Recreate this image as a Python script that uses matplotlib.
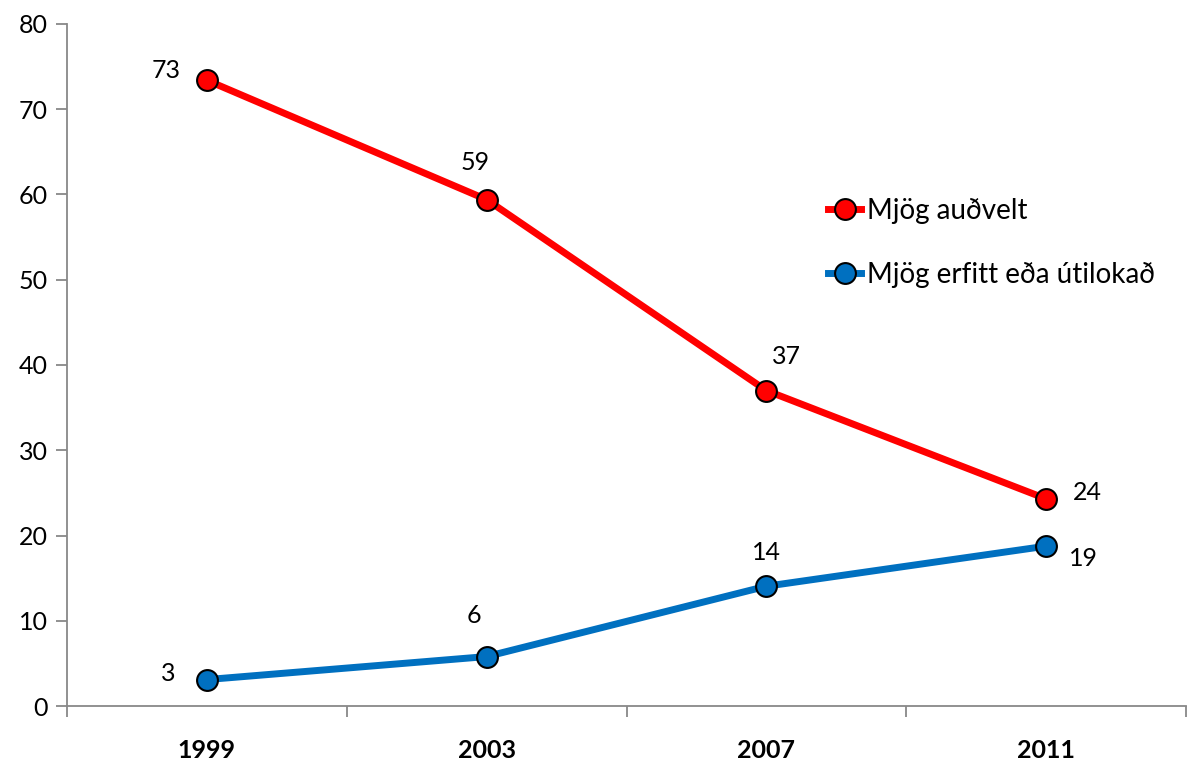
import matplotlib
matplotlib.use("Agg")
import matplotlib.pyplot as plt
from matplotlib.ticker import FixedLocator, NullFormatter

plt.rcParams['font.family'] = ['Lato', 'DejaVu Sans']

years = ['1999', '2003', '2007', '2011']
audvelt = [73.4, 59.4, 37.0, 24.3]
erfitt = [3.1, 5.8, 14.05, 18.75]
audvelt_labels = ['73', '59', '37', '24']
erfitt_labels = ['3', '6', '14', '19']
series_names = ['Mjög auðvelt', 'Mjög erfitt eða útilokað']

red = '#FF0000'
blue = '#0070C0'

fig = plt.figure(figsize=(11.87, 7.65), dpi=100)
ax = fig.add_axes([67/1187, 59/765, 1119/1187, 682/765])

x = list(range(len(years)))
ax.plot(x, audvelt, color=red, lw=5, marker='o', ms=15, mfc=red,
        mec='black', mew=1.5, label=series_names[0], zorder=3)
ax.plot(x, erfitt, color=blue, lw=5, marker='o', ms=15, mfc=blue,
        mec='black', mew=1.5, label=series_names[1], zorder=3)

off_a = [(-41, 10), (-12, 37), (20, 34), (41, 6)]
off_e = [(-39, 6), (-13, 41), (0, 34), (37, -12)]
for i in x:
    ax.annotate(audvelt_labels[i], (i, audvelt[i]), xytext=off_a[i],
                textcoords='offset pixels', ha='center', va='center', fontsize=18)
    ax.annotate(erfitt_labels[i], (i, erfitt[i]), xytext=off_e[i],
                textcoords='offset pixels', ha='center', va='center', fontsize=18)

ax.set_xlim(-0.5, 3.5)
ax.set_ylim(0, 80)
ax.set_yticks(range(0, 81, 10))
ax.set_xticks(x)
ax.set_xticklabels(years, fontweight='bold', fontsize=18)
ax.xaxis.set_minor_locator(FixedLocator([-0.5, 0.5, 1.5, 2.5, 3.5]))
ax.xaxis.set_minor_formatter(NullFormatter())
ax.tick_params(axis='x', which='major', length=0, pad=24)
ax.tick_params(axis='x', which='minor', length=8, color='#888888', width=1.3)
ax.tick_params(axis='y', length=8, color='#888888', width=1.3, labelsize=18, pad=6)

for s in ['top', 'right']:
    ax.spines[s].set_visible(False)
for s in ['left', 'bottom']:
    ax.spines[s].set_color('#888888')
    ax.spines[s].set_linewidth(1.3)

leg = ax.legend(loc='upper left', bbox_to_anchor=((817-67)/1119, (741-222)/682),
                frameon=False, fontsize=20, handlelength=1.2, handletextpad=0.2,
                labelspacing=1.35, borderaxespad=0)

fig.savefig('out.png', dpi=100)
